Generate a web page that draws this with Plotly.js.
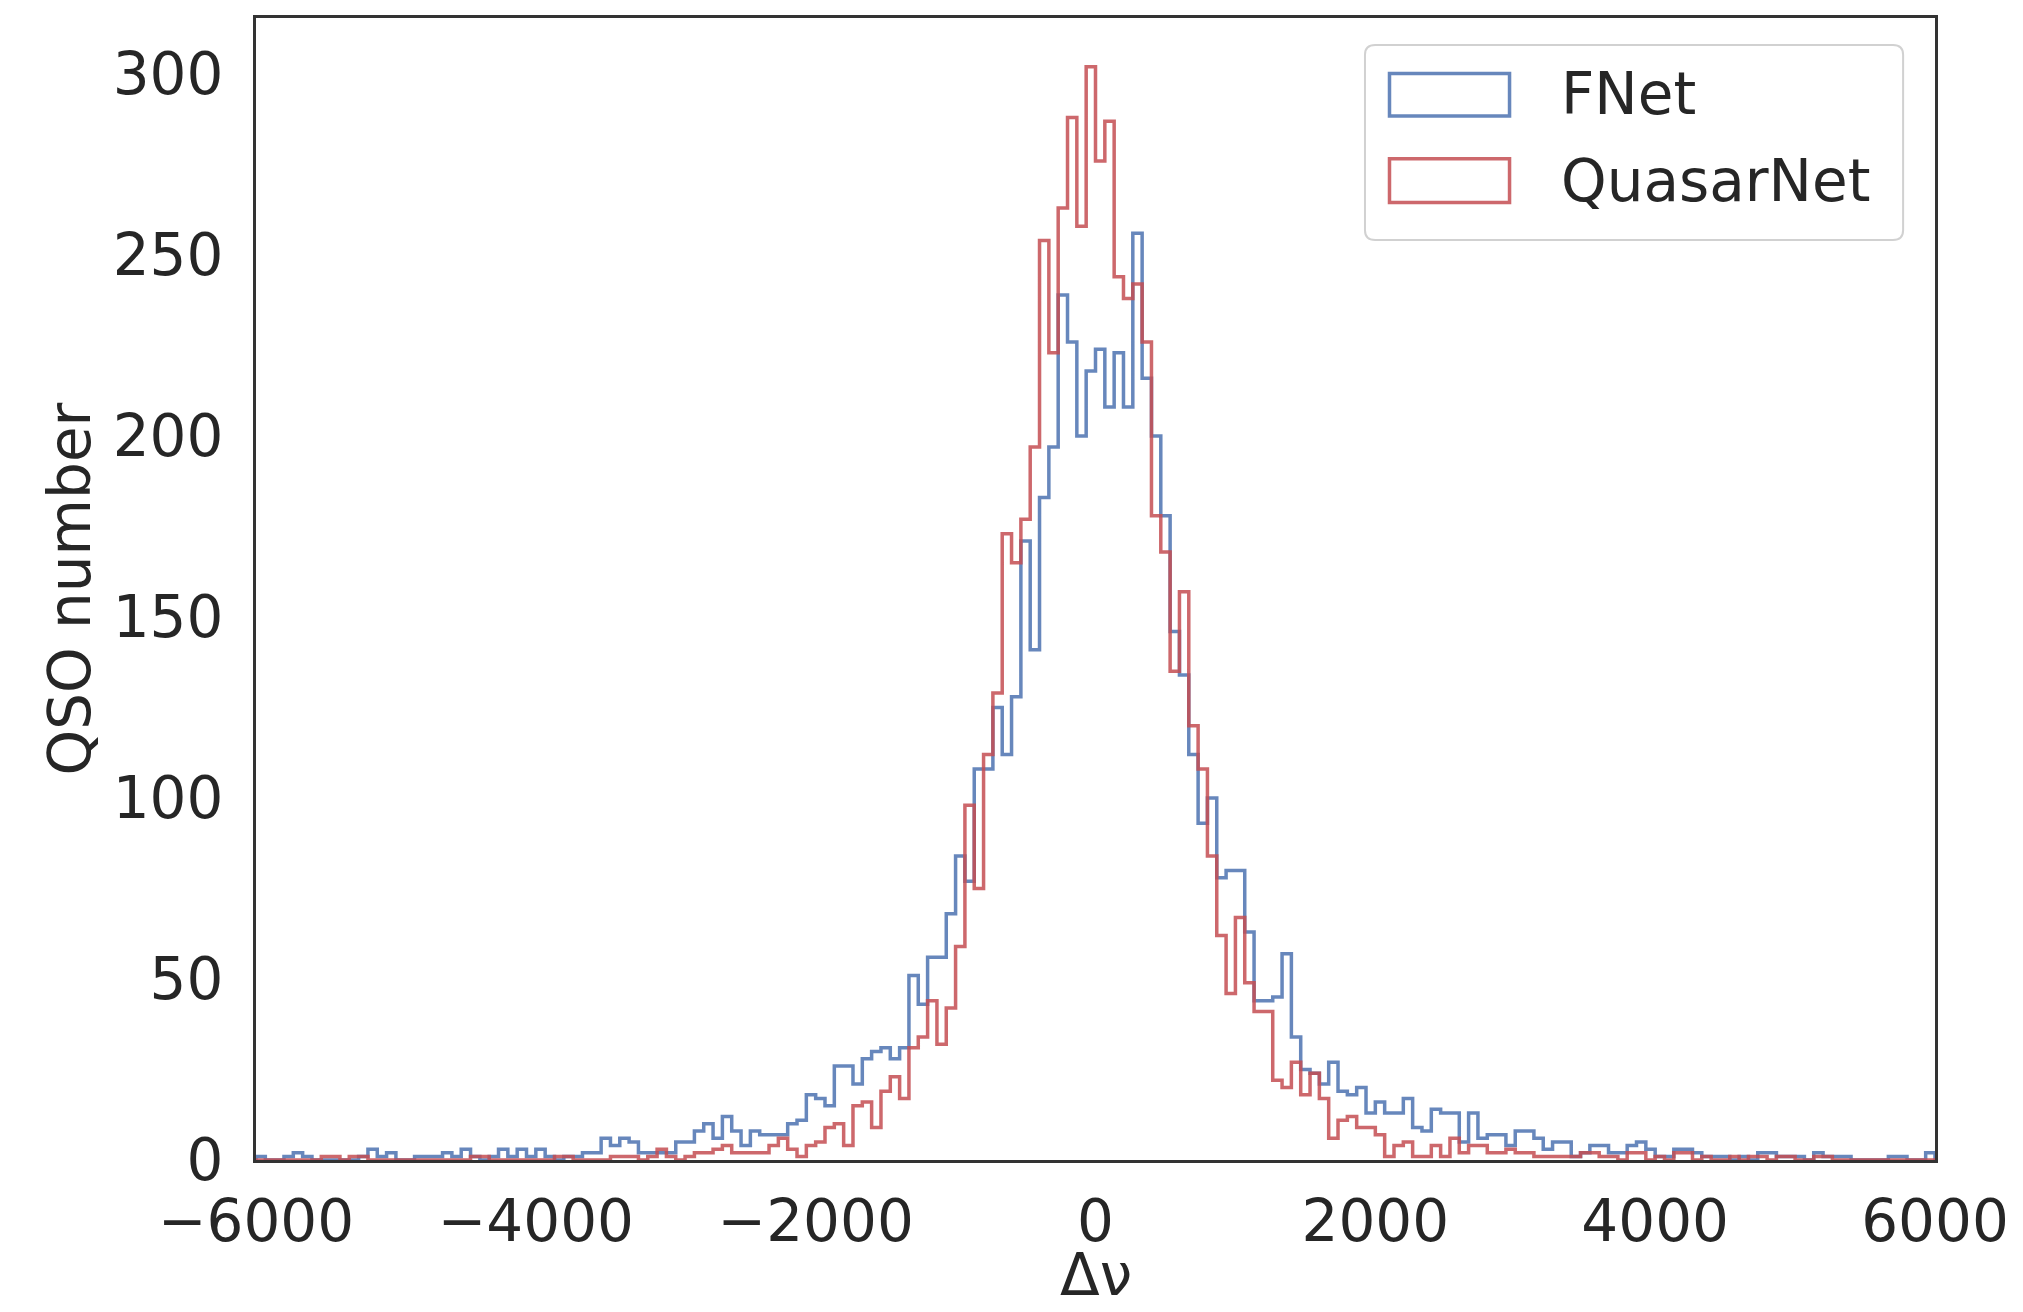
<!DOCTYPE html>
<html>
<head>
<meta charset="utf-8">
<script src="https://cdn.plot.ly/plotly-3.0.1.min.js"></script>
<style>html,body{margin:0;padding:0;background:#ffffff;}</style>
</head>
<body>
<div id="chart" style="width:2023px;height:1312px;"></div>
<script>
// ---- data ----
const binRange = [-6000, 6000];   // histogram range on Δν
const binCount = 180;             // number of bins
const seriesNames = ['FNet', 'QuasarNet'];
const xTitle = 'Δν';
const yTitle = 'QSO number';

const fnetCounts = [
  1,0,0,1,2,1,0,0,0,0,
  0,1,3,1,2,0,0,1,1,1,
  2,1,3,1,0,1,3,1,3,1,
  3,1,0,1,1,2,2,6,4,6,
  5,2,2,2,2,5,5,8,10,6,
  12,8,4,8,7,7,7,10,11,18,
  17,15,26,26,21,28,30,31,28,31,
  51,43,56,56,68,84,77,108,108,125,
  112,128,171,141,183,197,239,226,200,218,
  224,208,223,208,256,216,200,178,146,134,
  112,93,100,78,80,80,63,44,44,45,
  57,34,25,24,21,27,19,18,20,13,
  16,13,13,17,9,8,14,13,13,5,
  13,6,7,7,4,8,8,6,3,5,
  5,1,2,4,4,2,2,4,5,3,
  1,1,3,3,2,1,1,1,0,1,
  0,2,2,1,1,1,0,2,1,1,
  1,0,0,0,0,1,1,0,0,2
];

const quasarnetCounts = [
  0,0,0,0,0,0,0,1,1,0,
  1,1,0,0,0,0,0,0,0,0,
  0,0,0,1,1,0,0,0,0,0,
  0,0,1,1,0,0,0,0,1,1,
  1,0,1,3,1,0,1,2,2,3,
  4,2,2,2,2,4,6,3,1,4,
  5,9,10,4,15,16,9,19,23,17,
  31,34,44,32,42,59,98,75,112,129,
  173,165,177,197,254,223,263,288,258,302,
  276,287,244,238,242,226,178,168,135,157,
  120,108,84,62,46,67,49,41,41,22,
  20,27,18,24,17,6,11,12,9,9,
  7,1,4,5,1,1,4,1,6,2,
  4,4,2,2,3,2,2,1,1,1,
  1,1,2,2,1,1,0,2,2,0,
  1,0,2,2,0,1,0,0,1,0,
  1,1,0,1,1,0,0,1,1,0,
  0,0,0,0,0,0,0,0,0,0
];

const xTickValues = [-6000, -4000, -2000, 0, 2000, 4000, 6000];
const yTickValues = [0, 50, 100, 150, 200, 250, 300];

// ---- build step outlines (like matplotlib histtype='step') ----
function stepOutline(counts) {
  const w = (binRange[1] - binRange[0]) / binCount;
  const xs = [binRange[0]], ys = [0];
  counts.forEach((c, i) => { xs.push(binRange[0] + i * w); ys.push(c); });
  xs.push(binRange[1]); ys.push(0);
  return { x: xs, y: ys };
}

const colors = ['rgba(76,114,176,0.85)', 'rgba(196,78,82,0.85)'];
const allCounts = [fnetCounts, quasarnetCounts];

const traces = allCounts.map((counts, k) => {
  const s = stepOutline(counts);
  return {
    type: 'scatter', mode: 'lines', name: seriesNames[k],
    x: s.x, y: s.y,
    line: { shape: 'hv', color: colors[k], width: 3.5 },
    showlegend: false, hoverinfo: 'x+y+name'
  };
});

// ---- manual legend (matplotlib-style outlined patches) ----
const font = 'DejaVu Sans, Liberation Sans, sans-serif';
const txtColor = '#262626';
function roundedRect(x0, y0, x1, y1, rx, ry) {
  return `M ${x0+rx},${y0} L ${x1-rx},${y0} Q ${x1},${y0} ${x1},${y0+ry} ` +
         `L ${x1},${y1-ry} Q ${x1},${y1} ${x1-rx},${y1} L ${x0+rx},${y1} ` +
         `Q ${x0},${y1} ${x0},${y1-ry} L ${x0},${y0+ry} Q ${x0},${y0} ${x0+rx},${y0} Z`;
}
const legendBox = { x0: 0.6605, x1: 0.981, y0: 0.8056, y1: 0.9764 };
const symX = [0.6751, 0.7466];
const symY = [[0.9142, 0.9514], [0.8384, 0.8768]];
const textY = [0.9335, 0.8576];
const textX = 0.7758;

const shapes = [
  { type: 'path', xref: 'paper', yref: 'paper',
    path: roundedRect(legendBox.x0, legendBox.y0, legendBox.x1, legendBox.y1, 0.006, 0.0085),
    line: { color: 'rgba(204,204,204,0.9)', width: 2 }, fillcolor: 'rgba(255,255,255,0.8)', layer: 'above' }
];
seriesNames.forEach((n, k) => {
  shapes.push({ type: 'rect', xref: 'paper', yref: 'paper',
    x0: symX[0], x1: symX[1], y0: symY[k][0], y1: symY[k][1],
    line: { color: colors[k], width: 3.5 }, fillcolor: 'rgba(0,0,0,0)', layer: 'above' });
});
const annotations = seriesNames.map((n, k) => ({
  xref: 'paper', yref: 'paper', x: textX, y: textY[k], xanchor: 'left', yanchor: 'middle',
  text: n, showarrow: false, font: { family: font, size: 58, color: txtColor }
}));
// x-axis title placed as an annotation so it can sit as low as in the reference
annotations.push({
  xref: 'paper', yref: 'paper', x: 0.5, y: -0.1315, xanchor: 'center', yanchor: 'bottom',
  borderpad: 0,
  text: xTitle, showarrow: false, font: { family: font, size: 58, color: txtColor }
});

const layout = {
  width: 2023, height: 1312,
  margin: { l: 256, r: 88, t: 18, b: 152, pad: 0 },
  paper_bgcolor: '#ffffff', plot_bgcolor: '#ffffff',
  font: { family: font, size: 58, color: txtColor },
  showlegend: false,
  xaxis: {
    range: binRange, tickvals: xTickValues, ticks: '', showgrid: false, zeroline: false,
    showline: true, mirror: true, linecolor: '#333333', linewidth: 3,
    tickfont: { family: font, size: 58, color: txtColor }, ticklabelstandoff: 8
  },
  yaxis: {
    range: [0, 315.5], tickvals: yTickValues, ticks: '', showgrid: false, zeroline: false,
    showline: true, mirror: true, linecolor: '#333333', linewidth: 3,
    tickfont: { family: font, size: 58, color: txtColor }, ticklabelstandoff: 18,
    title: { text: yTitle, font: { family: font, size: 58, color: txtColor }, standoff: 4 }
  },
  shapes: shapes,
  annotations: annotations
};

Plotly.newPlot('chart', traces, layout, { displayModeBar: false, staticPlot: true });
</script>
</body>
</html>
